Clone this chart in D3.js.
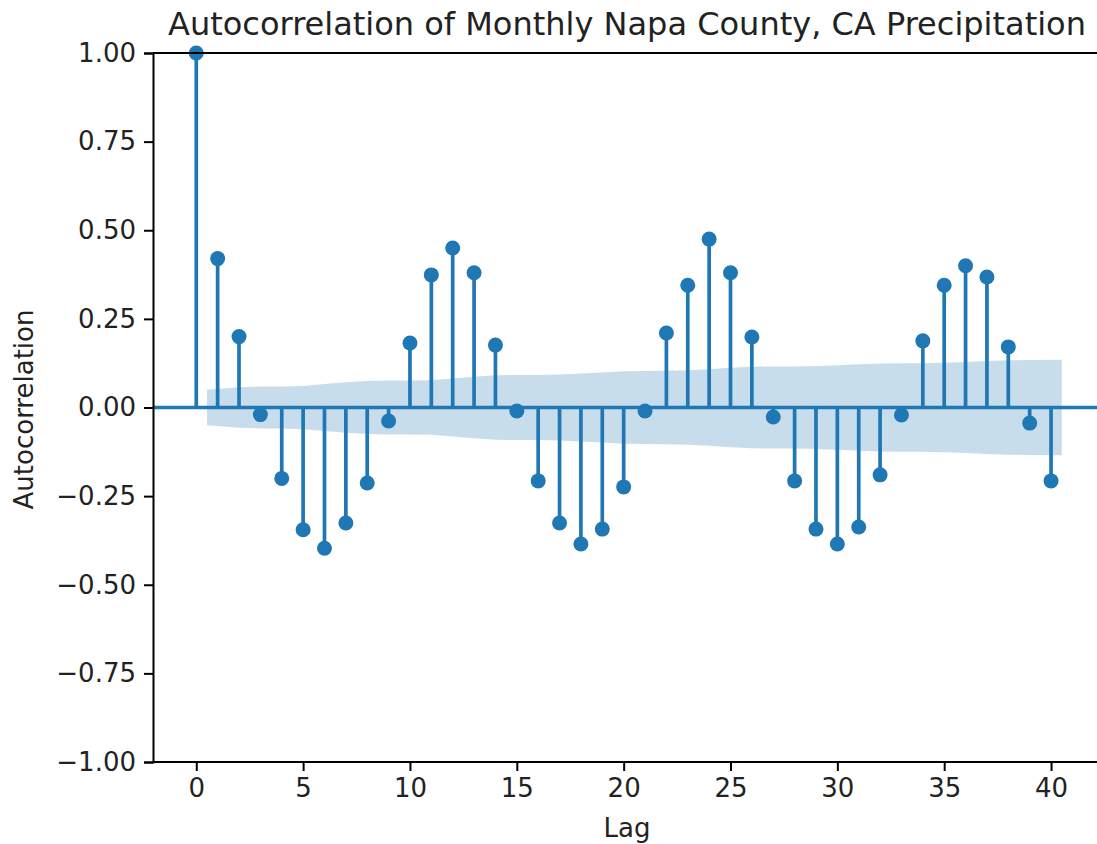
<!DOCTYPE html>
<html>
<head>
<meta charset="utf-8">
<script src="https://cdn.jsdelivr.net/npm/d3@7"></script>
<style>
  body { margin: 0; background: #fff; }
  text { font-family: "DejaVu Sans", sans-serif; fill: #222; }
</style>
</head>
<body>
<div id="chart"></div>
<script>
// acf values, lag 0..40
const lags = d3.range(0, 41);
const acf = [1.0, 0.42, 0.20, -0.02, -0.20, -0.345, -0.397, -0.326, -0.213, -0.038,
  0.182, 0.374, 0.45, 0.38, 0.176, -0.01, -0.207, -0.326, -0.385, -0.343,
  -0.224, -0.01, 0.21, 0.345, 0.475, 0.38, 0.199, -0.027, -0.207, -0.343,
  -0.385, -0.337, -0.19, -0.021, 0.188, 0.345, 0.40, 0.368, 0.171, -0.044, -0.207];
// confidence band half width, lag 1..40 (drawn from 0.5 to 40.5)
const bandX = [0.5].concat(d3.range(2, 40), [40.5]);
const band = [0.050, 0.057, 0.059, 0.059, 0.061, 0.066, 0.071, 0.075, 0.076, 0.076,
  0.077, 0.082, 0.087, 0.091, 0.092, 0.092, 0.093, 0.096, 0.099, 0.102,
  0.103, 0.104, 0.105, 0.108, 0.112, 0.115, 0.116, 0.116, 0.117, 0.119,
  0.122, 0.124, 0.125, 0.125, 0.126, 0.128, 0.131, 0.133, 0.134, 0.135];
const xTicks = [0, 5, 10, 15, 20, 25, 30, 35, 40];
const yTicks = [-1, -0.75, -0.5, -0.25, 0, 0.25, 0.5, 0.75, 1];

const width = 1097;
const height = 844;
const margin = { top: 53, right: -8, bottom: 82, left: 153 };
const blue = "#1f77b4";

const svg = d3.select("#chart")
  .append("svg")
  .attr("width", width)
  .attr("height", height);

const x = d3.scaleLinear()
  .domain([-2.025, 42.525])
  .range([margin.left, width - margin.right]);

const y = d3.scaleLinear()
  .domain([-1, 1])
  .range([height - margin.bottom, margin.top]);

// band
svg.append("path")
  .datum(bandX.map((v, i) => [v, band[i]]))
  .attr("fill", blue)
  .attr("fill-opacity", 0.25)
  .attr("stroke", "none")
  .attr("d", d3.area()
    .x(d => x(d[0]))
    .y0(d => y(-d[1]))
    .y1(d => y(d[1])));

// zero line
svg.append("line")
  .attr("x1", margin.left).attr("x2", width)
  .attr("y1", y(0)).attr("y2", y(0))
  .attr("stroke", blue)
  .attr("stroke-width", 3.5);

// stems
svg.append("g")
  .selectAll("line")
  .data(lags)
  .join("line")
  .attr("x1", d => x(d)).attr("x2", d => x(d))
  .attr("y1", y(0))
  .attr("y2", d => y(acf[d]))
  .attr("stroke", blue)
  .attr("stroke-width", 3.7);

svg.append("g")
  .selectAll("circle")
  .data(lags)
  .join("circle")
  .attr("cx", d => x(d))
  .attr("cy", d => y(acf[d]))
  .attr("r", 7.5)
  .attr("fill", blue);

// axes
const xAxis = svg.append("g")
  .attr("transform", `translate(0,${height - margin.bottom})`)
  .call(d3.axisBottom(x).tickValues(xTicks).tickSize(9).tickPadding(8).tickFormat(d3.format("d")));

const yAxis = svg.append("g")
  .attr("transform", `translate(${margin.left},0)`)
  .call(d3.axisLeft(y).tickValues(yTicks).tickSize(9).tickPadding(8)
    .tickFormat(d => d3.format(".2f")(d).replace("-", "\u2212")));

[xAxis, yAxis].forEach(g => {
  g.select(".domain").attr("stroke", "#000").attr("stroke-width", 2);
  g.selectAll(".tick line").attr("stroke", "#000").attr("stroke-width", 2);
  g.selectAll(".tick text")
    .style("font-size", "26px")
    .style("font-family", "DejaVu Sans")
    .attr("fill", "#222");
});
xAxis.select(".domain").attr("d", `M${margin.left},0H${width}`);

// top spine
svg.append("line")
  .attr("x1", margin.left).attr("x2", width)
  .attr("y1", margin.top).attr("y2", margin.top)
  .attr("stroke", "#000")
  .attr("stroke-width", 2);

svg.append("text")
  .attr("x", (margin.left + width - margin.right) / 2 - 2)
  .attr("y", 35)
  .attr("text-anchor", "middle")
  .style("font-size", "32px")
  .text("Autocorrelation of Monthly Napa County, CA Precipitation");

svg.append("text")
  .attr("x", (margin.left + width - margin.right) / 2 - 2)
  .attr("y", 837)
  .attr("text-anchor", "middle")
  .style("font-size", "26px")
  .text("Lag");

svg.append("text")
  .attr("transform", `translate(33,${y(0) + 2}) rotate(-90)`)
  .attr("text-anchor", "middle")
  .style("font-size", "26px")
  .text("Autocorrelation");
</script>
</body>
</html>
